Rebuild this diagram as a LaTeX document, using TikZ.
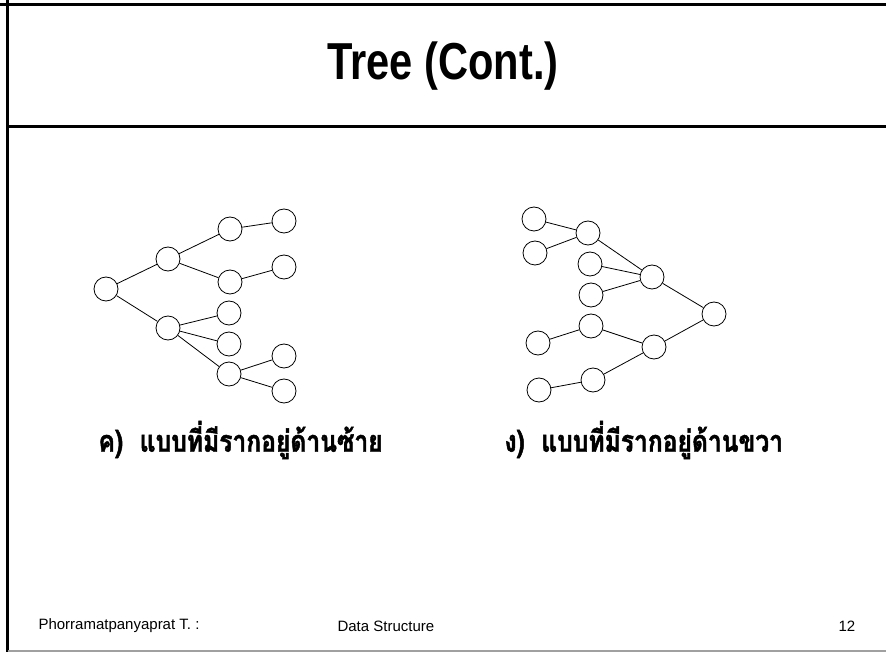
\documentclass[tikz,border=0pt]{standalone}
\usepackage{fontspec}
\setmainfont{Liberation Sans}
\newfontfamily\thaifont[Script=Thai, FakeStretch=0.82, FakeBold=1.5]{Loma}
\newfontfamily\titlefont[FakeStretch=0.8]{Liberation Sans}
\usetikzlibrary{positioning}
\definecolor{Rule}{HTML}{A0A0A0}
\tikzset{
    treenode/.style={circle, draw=black, fill=white, minimum size=24pt, inner sep=0pt, line width=0.8pt},
    branch/.style={line width=0.8pt, black},
    caption/.style={anchor=west, font=\thaifont\bfseries\fontsize{30}{33}\selectfont},
    footer/.style={anchor=west, font=\fontsize{15}{17}\selectfont},
}

\begin{document}
\begin{tikzpicture}[x=1pt, y=-1pt]
    \useasboundingbox (0,0) rectangle (886,652);
    % Frame
    \draw[line width=3pt] (7.5,0) -- (7.5,652);
    \draw[line width=3pt] (0,4.5) -- (886,4.5);
    \draw[line width=3pt] (7.5,127) -- (886,127);
    \draw[line width=2pt, Rule] (7.5,650.5) -- (886,650.5);

    % Title
    \node[font=\titlefont\bfseries\fontsize{52}{56}\selectfont] (title) at (443,66) {Tree (Cont.)};

    % Tree with the root on the left
    \node[treenode] (lroot) at (106,289) {};
    \node[treenode] (la) at (168,259) {};
    \node[treenode] (lb) at (168,328) {};
    \node[treenode] (laa) at (230,229) {};
    \node[treenode] (lab) at (230,282) {};
    \node[treenode] (lba) at (229,313) {};
    \node[treenode] (lbb) at (229,344) {};
    \node[treenode] (lbc) at (229,374) {};
    \node[treenode] (laaa) at (284,221) {};
    \node[treenode] (laba) at (284,267) {};
    \node[treenode] (lbca) at (284,356) {};
    \node[treenode] (lbcb) at (284,391) {};
    \draw[branch] (lroot) -- (la) (lroot) -- (lb);
    \draw[branch] (la) -- (laa) (la) -- (lab);
    \draw[branch] (laa) -- (laaa) (lab) -- (laba);
    \draw[branch] (lb) -- (lba) (lb) -- (lbb) (lb) -- (lbc);
    \draw[branch] (lbc) -- (lbca) (lbc) -- (lbcb);

    % Tree with the root on the right
    \node[treenode] (rroot) at (714,314) {};
    \node[treenode] (rq) at (652,277) {};
    \node[treenode] (rs) at (654,347) {};
    \node[treenode] (rp) at (588,233) {};
    \node[treenode] (rqb) at (590,264) {};
    \node[treenode] (rqc) at (591,295) {};
    \node[treenode] (rpa) at (534,219) {};
    \node[treenode] (rpb) at (535,253) {};
    \node[treenode] (rsa) at (591,326) {};
    \node[treenode] (rsb) at (593,380) {};
    \node[treenode] (rsaa) at (538,343) {};
    \node[treenode] (rsba) at (539,390) {};
    \draw[branch] (rq) -- (rroot) (rs) -- (rroot);
    \draw[branch] (rp) -- (rq) (rqb) -- (rq) (rqc) -- (rq);
    \draw[branch] (rpa) -- (rp) (rpb) -- (rp);
    \draw[branch] (rsa) -- (rs) (rsb) -- (rs);
    \draw[branch] (rsaa) -- (rsa) (rsba) -- (rsb);

    % Captions
    \node[caption] (capleft) at (95,440) {ค)\ \ แบบที่มีรากอยู่ด้านซ้าย};
    \node[caption] (capright) at (501,440) {ง)\ \ แบบที่มีรากอยู่ด้านขวา};

    % Footer
    \node[footer] (author) at (35,626) {Phorramatpanyaprat T. :};
    \node[footer] (course) at (334,626) {Data Structure};
    \node[footer] (page) at (835,626) {12};
\end{tikzpicture}
\end{document}
